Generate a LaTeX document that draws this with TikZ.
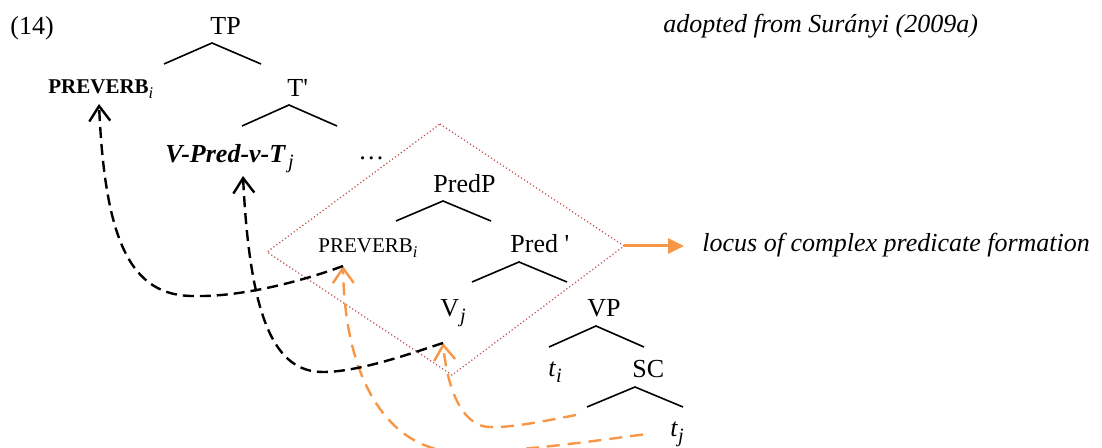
\documentclass[tikz,border=0pt]{standalone}
\usepackage{fontspec}
\usepackage{graphicx}
\setmainfont{Liberation Serif}
\usetikzlibrary{arrows.meta}

\definecolor{locusred}{HTML}{C0504D}
\definecolor{moveorange}{HTML}{F79646}
\newcommand{\idx}[1]{\raisebox{-0.45ex}{\scalebox{0.78}{\normalfont\itshape #1}}}

\begin{document}
\begin{tikzpicture}[x=0.5pt,y=-0.5pt,
				lbl/.style={inner sep=0pt, anchor=base west, font=\fontsize{13}{15}\selectfont},
				smalllbl/.style={inner sep=0pt, anchor=base west, font=\fontsize{10.5}{12}\selectfont},
				branch/.style={line width=0.8pt},
				locus/.style={locusred, line width=0.6pt, dash pattern=on 0.6pt off 1.2pt},
				locusarrow/.style={moveorange, line width=1.5pt, -{Triangle[length=8pt,width=7.5pt]}},
				blackmove/.style={line width=1.2pt, dash pattern=on 5.5pt off 3pt, -{Straight Barb[length=7.5pt,width=10.5pt]}},
				orangemove/.style={moveorange, line width=1.2pt, dash pattern=on 6.5pt off 4pt, -{Straight Barb[length=7.5pt,width=10.5pt]}}
				]
				
				\useasboundingbox (0,0) rectangle (1102,448);
				
				\begin{scope}
				\node[lbl] (ex) at (10,35) {(14)};
				\node[lbl] (src) at (663,33) {\textit{adopted from Surányi (2009a)}};
				\node[lbl] (lc) at (702,252) {\textit{locus of complex predicate formation}};
				
				\node[lbl] (tp) at (210,35) {TP};
				\node[smalllbl] (pv1) at (48,94) {\textbf{PREVERB}\idx{i}};
				\node[lbl] (tbar) at (287,97) {T\textquotesingle};
				\node[lbl] (vt) at (165,163) {\textbf{\textit{V-Pred-v-T}}\kern1pt\idx{j}};
				\node[lbl] (dots) at (358,160) {…};
				\node[lbl] (predp) at (433,193) {PredP};
				\node[smalllbl] (pv2) at (318,253) {PREVERB\idx{i}};
				\node[lbl] (predbar) at (510,253) {Pred \textquotesingle};
				\node[lbl] (vj) at (440,317) {V\kern0.5pt\idx{j}};
				\node[lbl] (vp) at (587,317) {VP};
				\node[lbl] (ti) at (548,377) {\textit{t}\idx{i}};
				\node[lbl] (sc) at (632,378) {SC};
				\node[lbl] (tj) at (670,437) {\textit{t}\idx{j}};
				\end{scope}
				
				\coordinate (tp-top) at (212,43);
				\coordinate (tbar-top) at (289,105);
				\coordinate (predp-top) at (443,201);
				\coordinate (predbar-top) at (519,262);
				\coordinate (vp-top) at (596,326);
				\coordinate (sc-top) at (635,387);
				
				\draw[branch] ([shift={(-48,21)}]tp-top) -- (tp-top) -- ++(49,21);
				\draw[branch] ([shift={(-47,21)}]tbar-top) -- (tbar-top) -- ++(48,21);
				\draw[branch] ([shift={(-47,20)}]predp-top) -- (predp-top) -- ++(48,20);
				\draw[branch] ([shift={(-47,20)}]predbar-top) -- (predbar-top) -- ++(48,20);
				\draw[branch] ([shift={(-47,21)}]vp-top) -- (vp-top) -- ++(48,21);
				\draw[branch] ([shift={(-48,20)}]sc-top) coordinate (sc-l) -- (sc-top) -- ++(48,20);
				
				\draw[locus] (440,124) coordinate (dia-t) -- (624,246) coordinate (dia-r)
				-- (452,375) coordinate (dia-b) -- (267,252) coordinate (dia-l) -- cycle;
				\draw[locusarrow, shorten >=9pt] (dia-r) -- (dia-r -| lc.west);
				
				\coordinate (pv1-foot) at (99,104);
				\coordinate (vt-foot) at (243,176);
				\coordinate (pv2-foot) at (343,266);
				\coordinate (vj-foot) at (443,343);
				
				\draw[orangemove] ([shift={(-11,8)}]sc-l) .. controls (545,421) and (510,428) .. (490,427)
				.. controls (465,427) and (448,395) .. (vj-foot);
				\draw[orangemove] ([xshift=-13.5pt]tj.west) .. controls (600,440) and (520,452) .. (460,452)
				.. controls (395,452) and (345,390) .. (pv2-foot);
				
				\draw[blackmove] (pv2-foot) .. controls (300,282) and (240,297) .. (195,296)
				.. controls (130,297) and (105,240) .. (pv1-foot);
				\draw[blackmove] (vj-foot) .. controls (415,352) and (360,372) .. (323,372)
				.. controls (275,372) and (250,320) .. (vt-foot);
				\end{tikzpicture}
\end{document}
